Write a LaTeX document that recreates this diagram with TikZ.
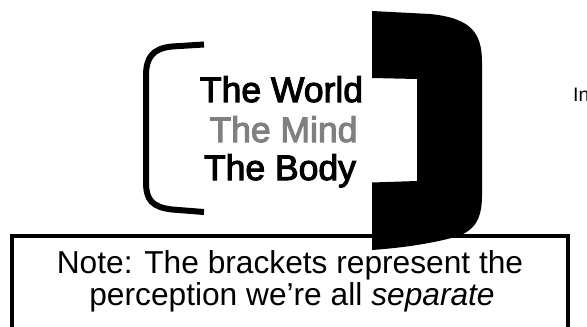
\documentclass[tikz,border=0pt]{standalone}
\usepackage{fontspec}
\setmainfont{Liberation Sans}
\newfontfamily\heavyfont{Liberation Sans}[FakeBold=3]
\begin{document}
\begin{tikzpicture}[x=1pt, y=-1pt,
    bigword/.style={font=\heavyfont\fontsize{35.5}{40}\selectfont, anchor=base, inner sep=0pt},
    notetext/.style={font=\fontsize{31.7}{34}\selectfont, anchor=base, inner sep=0pt}]
  \colorlet{mindgray}{black!50}
  \useasboundingbox (0,0) rectangle (587,327);
  % note box, open at the bottom edge
  \draw[line width=4.5pt] (12,340) -- (12,236) -- (568,236) -- (568,340);
  \node[notetext] (noteA) at (290,273) {Note: The brackets represent the};
  \node[notetext] (noteB) at (292,305) {perception we’re all \textit{separate}};
  % thin left bracket
  \draw[line width=6pt] (204,44.5) -- (172,46.5)
    .. controls (152,48.5) and (146,58) .. (146,76) -- (146,182)
    .. controls (146,200) and (152,207) .. (172,209.5) -- (204,212);
  % heavy right bracket, sits over the box line
  \fill (372,11) -- (430,14)
    .. controls (470,18) and (482,32) .. (482,62) -- (482,196)
    .. controls (482,222) and (472,232) .. (455,237)
    .. controls (430,244) and (400,248) .. (372,250)
    -- (372,182.5) -- (417,181) -- (417,79) -- (372,78) -- cycle;
  % the three words
  \node[bigword] (world) at (281.5,102) {The World};
  \node[bigword, text=mindgray] (mind) at (283.5,142) {The Mind};
  \node[bigword] (body) at (280,180) {The Body};
  % cut-off text at the right
  \node[font=\fontsize{19.5}{20}\selectfont, anchor=base west, inner sep=0pt] (intro) at (573,101) {In};
\end{tikzpicture}
\end{document}
